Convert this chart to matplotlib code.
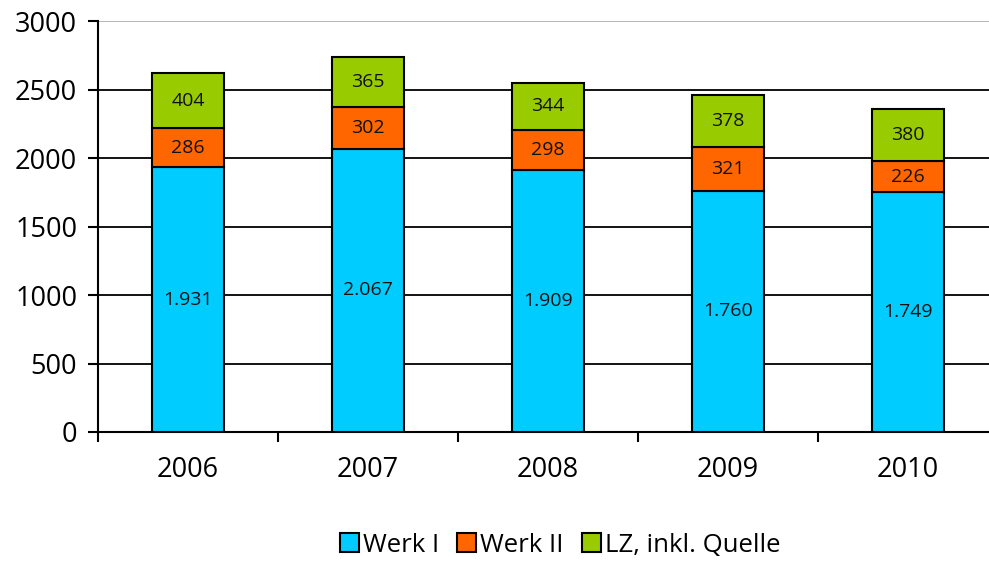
import numpy as np
from matplotlib import pyplot as plt
from matplotlib.patches import Patch

plt.rcParams["font.family"] = ["Open Sans", "DejaVu Sans"]

years = ["2006", "2007", "2008", "2009", "2010"]
werk1 = [1931, 2067, 1909, 1760, 1749]
werk2 = [286, 302, 298, 321, 226]
lz = [404, 365, 344, 378, 380]

names = ["Werk I", "Werk II", "LZ, inkl. Quelle"]
colors = ["#00CCFF", "#FF6600", "#99CC00"]


def fmt(v):
    return f"{v:,}".replace(",", ".")


fig = plt.figure(figsize=(9.89, 5.62), dpi=100)
ax = fig.add_axes([98 / 989, 130 / 562, 900 / 989, 411 / 562])

x = np.arange(len(years))
bottom = np.zeros(len(years))
for vals, name, color in zip([werk1, werk2, lz], names, colors):
    bars = ax.bar(x, vals, width=0.4, bottom=bottom, color=color,
                  edgecolor="black", linewidth=1.5, label=name, zorder=3)
    ax.bar_label(bars, labels=[fmt(v) for v in vals], label_type="center",
                 fontsize=14, color="#111111")
    bottom += np.array(vals)

ax.set_xlim(-0.5, len(years) - 0.5)
ax.set_ylim(0, 3000)
ax.set_yticks(np.arange(0, 3001, 500))
ax.set_xticks(x, years)
ax.set_xticks(np.arange(-0.5, len(years), 1.0), minor=True)

ax.tick_params(axis="y", length=7, width=1.5, pad=8, labelsize=19.5)
ax.tick_params(axis="x", which="major", length=0, pad=17, labelsize=19.5)
ax.tick_params(axis="x", which="minor", length=7, width=1.5)

ax.yaxis.grid(True, color="black", linewidth=1.3, zorder=0)
ax.yaxis.get_gridlines()[-1].set_color("#b0b0b0")
ax.set_axisbelow(True)

for side in ["top", "right"]:
    ax.spines[side].set_visible(False)
for side in ["left", "bottom"]:
    ax.spines[side].set_linewidth(1.5)

handles = [Patch(facecolor=c, edgecolor="black", linewidth=1.5, label=n)
           for c, n in zip(colors, names)]
fig.legend(handles=handles, loc="center", bbox_to_anchor=(560 / 989, 1 - 545 / 562),
           ncol=3, frameon=False, fontsize=18.5,
           handlelength=0.75, handleheight=0.75,
           handletextpad=0.15, columnspacing=0.7)

fig.savefig("out.png", dpi=100)
